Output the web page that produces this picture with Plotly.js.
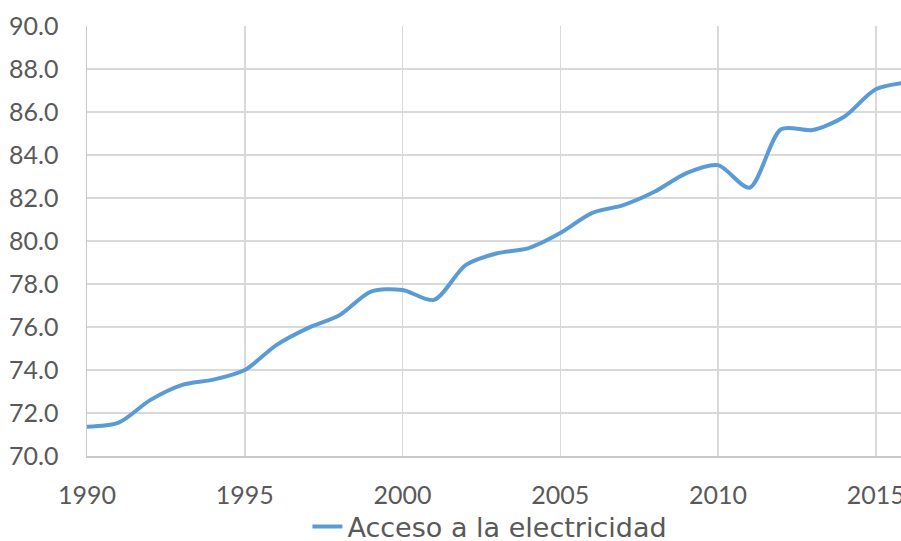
<!DOCTYPE html>
<html>
<head>
<meta charset="utf-8">
<script src="https://cdn.plot.ly/plotly-3.0.1.min.js"></script>
<style>html,body{margin:0;padding:0;background:#fff;}#chart{width:901px;height:541px;}</style>
</head>
<body>
<div id="chart"></div>
<script>
const years = [1990,1991,1992,1993,1994,1995,1996,1997,1998,1999,2000,2001,2002,2003,2004,2005,2006,2007,2008,2009,2010,2011,2012,2013,2014,2015,2016];
const acceso = [71.36,71.55,72.6,73.3,73.55,74.0,75.16,75.95,76.55,77.65,77.72,77.26,78.88,79.43,79.67,80.37,81.3,81.67,82.3,83.16,83.53,82.48,85.2,85.16,85.78,87.06,87.38];
const seriesName = 'Acceso a la electricidad';
const xTicks = [1990,1995,2000,2005,2010,2015];
const yTicks = [70,72,74,76,78,80,82,84,86,88,90];

const fontFam = 'Lato, "Noto Sans", sans-serif';
const legFam = '"DejaVu Sans", sans-serif';
const txt = '#595959';

Plotly.newPlot('chart', [{
  x: years, y: acceso, name: seriesName, type: 'scatter', mode: 'lines',
  line: {color: '#5b9bd5', width: 4, shape: 'spline', smoothing: 0.8}
}], {
  width: 901, height: 541,
  margin: {l: 87, r: 0, t: 26, b: 85, autoexpand: false},
  paper_bgcolor: '#fff', plot_bgcolor: '#fff',
  font: {family: fontFam, size: 25, color: txt},
  showlegend: true,
  legend: {orientation: 'h', x: 0.495, xanchor: 'center', y: -0.165, yanchor: 'middle',
           bgcolor: 'rgba(0,0,0,0)', font: {family: legFam, size: 27, color: txt}},
  xaxis: {
    range: [1990, 1990 + 814/31.55], tickvals: xTicks, ticktext: xTicks.map(String),
    showgrid: true, gridcolor: '#d9d9d9', gridwidth: 1.5,
    showline: true, linecolor: '#c8c8c8', linewidth: 1.5,
    zeroline: false, ticks: '', ticklabelstandoff: 16, ticklabeloverflow: 'allow',
    tickfont: {family: fontFam, size: 25, color: txt}
  },
  yaxis: {
    range: [70, 90], tickvals: yTicks, ticktext: yTicks.map(v => v.toFixed(1)),
    showgrid: true, gridcolor: '#d9d9d9', gridwidth: 1.5,
    showline: true, linecolor: '#c8c8c8', linewidth: 1.5,
    zeroline: false, ticks: '', ticklabelstandoff: 22,
    tickfont: {family: fontFam, size: 25, color: txt}
  }
}, {displayModeBar: false, staticPlot: true});
</script>
</body>
</html>
